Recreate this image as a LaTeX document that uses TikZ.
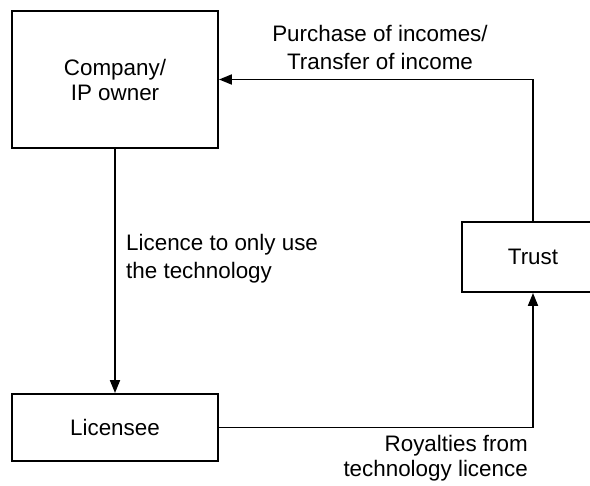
\documentclass[tikz,border=0pt]{standalone}
\usepackage{fontspec}
\setmainfont{Liberation Sans}
\usepackage{tikz}
\usetikzlibrary{arrows.meta}
\tikzstyle{bloque} = [draw=black, line width=1.9pt, rectangle, inner sep=0pt, align=center, font=\fontsize{22.4}{25}\selectfont]
\tikzstyle{etiqueta} = [inner sep=0pt, font=\fontsize{22.4}{28}\selectfont]
\tikzstyle{flecha} = [line width=1.9pt, -{Triangle[length=13pt,width=10pt]}]

\begin{document}
\begin{tikzpicture}[x=1pt, y=-1pt]
		\useasboundingbox (0,0) rectangle (590,486);
		\clip (0,0) rectangle (590,486);
		\node[bloque, minimum width=206pt, minimum height=137pt](empresa) at (115,79.5) {Company/\\IP owner};
		\node[bloque, minimum width=206pt, minimum height=67pt](licenciatario) at (115,427.5) {Licensee};
		\node[bloque, minimum width=142pt, minimum height=70pt](fideicomiso) at (533,257) {Trust};
		\draw[flecha] (empresa.south) -- (licenciatario.north);
		\draw[flecha] (licenciatario.east) -| (fideicomiso.south);
		\draw[flecha] (fideicomiso.north) |- (empresa.east);
		\node[etiqueta, align=center](compra) at (380,47.5) {Purchase of incomes/\\Transfer of income};
		\node[etiqueta, align=left, anchor=west](licencia) at (126,259) {Licence to only use\\the technology};
		\node[etiqueta, align=right, anchor=east, font=\fontsize{22.4}{25}\selectfont](regalias) at (528,458) {Royalties from\\technology licence};
	\end{tikzpicture}
\end{document}
